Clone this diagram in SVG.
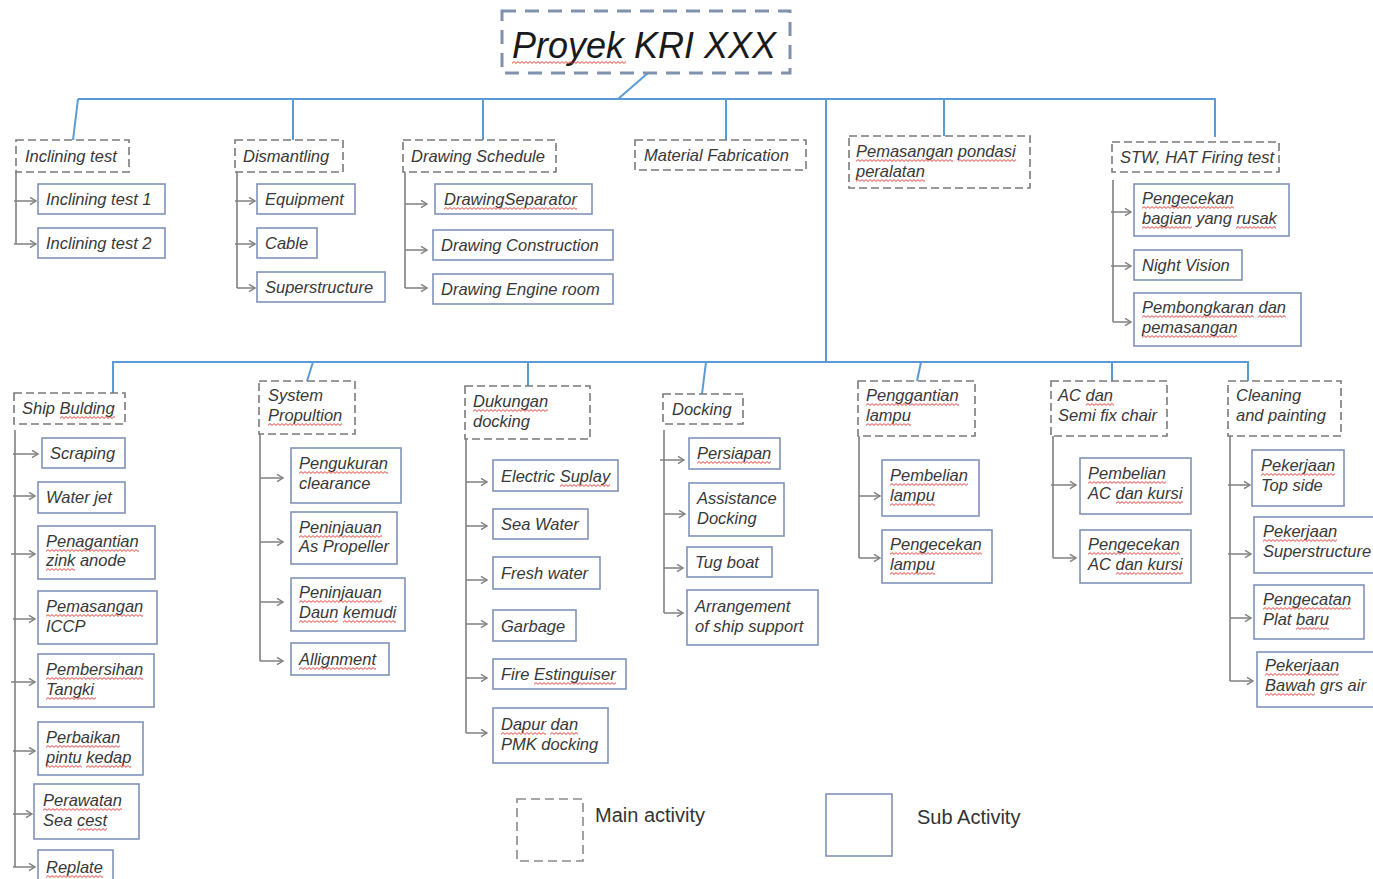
<svg xmlns="http://www.w3.org/2000/svg" width="1373" height="879" viewBox="0 0 1373 879">
  <style>
    .t { font-family: "Liberation Sans", Arial, sans-serif; font-style: italic; font-size: 16.5px; fill: #383838; }
    .title { font-family: "Liberation Sans", Arial, sans-serif; font-style: italic; font-size: 36px; fill: #1a1a1a; }
    .lg { font-family: "Liberation Sans", Arial, sans-serif; font-size: 20px; fill: #333; }
    .main { fill: #fff; stroke: #7a7a7a; stroke-width: 1.6; stroke-dasharray: 8 4; }
    .sub { fill: #fff; stroke: #7f93b8; stroke-width: 1.6; }
    .bus { fill: none; stroke: #5b9bd5; stroke-width: 2; }
    .br { fill: none; stroke: #808080; stroke-width: 1.6; }
    .ar { fill: none; stroke: #808080; stroke-width: 1.5; marker-end: url(#ah); }
    .wv { fill: url(#wave); }
  </style>
  <defs>
    <marker id="ah" markerWidth="9" markerHeight="9" refX="7.5" refY="4.5" orient="auto" markerUnits="userSpaceOnUse">
      <path d="M1.5,0.8 L7.5,4.5 L1.5,8.2" fill="none" stroke="#808080" stroke-width="1.4"/>
    </marker>
    <!-- red wavy spell-check underline -->
    <pattern id="wave" width="4" height="3" patternUnits="userSpaceOnUse">
      <path d="M0,2.4 L2,0.6 L4,2.4" fill="none" stroke="#e0302a" stroke-width="0.9"/>
    </pattern>
  </defs>
  <rect width="1373" height="879" fill="#fff"/>

  <!-- connectors -->
  <g id="connectors">
    <!-- upper bus -->
    <path class="bus" d="M648,73 L618,99"/>
    <path class="bus" d="M78,99 H1215 V137"/>
    <path class="bus" d="M78,99 L73,140"/>
    <path class="bus" d="M293,99 V140"/>
    <path class="bus" d="M483,99 V140"/>
    <path class="bus" d="M726,99 V140"/>
    <path class="bus" d="M944,99 V136"/>
    <path class="bus" d="M826,99 V362"/>
    <!-- lower bus -->
    <path class="bus" d="M113,393 V362 H1248 V381"/>
    <path class="bus" d="M313,362 L307,381"/>
    <path class="bus" d="M528,362 V386"/>
    <path class="bus" d="M706,362 L702,394"/>
    <path class="bus" d="M921,362 L917,381"/>
    <path class="bus" d="M1112,362 V381"/>

    <!-- Inclining test -->
    <path class="br" d="M16,172 V244"/>
    <path class="ar" d="M14,201 H36"/>
    <path class="ar" d="M14,244 H36"/>
    <!-- Dismantling -->
    <path class="br" d="M237,172 V288"/>
    <path class="ar" d="M235,201 H255"/>
    <path class="ar" d="M235,244 H255"/>
    <path class="ar" d="M237,288 H255"/>
    <!-- Drawing Schedule -->
    <path class="br" d="M405,172 V288"/>
    <path class="ar" d="M405,204 H427"/>
    <path class="ar" d="M405,250 H427"/>
    <path class="ar" d="M405,288 H427"/>
    <!-- STW -->
    <path class="br" d="M1113,180 V322"/>
    <path class="ar" d="M1111,212 H1131"/>
    <path class="ar" d="M1111,266 H1131"/>
    <path class="ar" d="M1113,322 H1131"/>
    <!-- Ship Bulding -->
    <path class="br" d="M15,430 V867"/>
    <path class="ar" d="M13,454 H38"/>
    <path class="ar" d="M13,496 H35"/>
    <path class="ar" d="M11,554 H35"/>
    <path class="ar" d="M13,619 H35"/>
    <path class="ar" d="M11,682 H35"/>
    <path class="ar" d="M13,751 H35"/>
    <path class="ar" d="M13,814 H32"/>
    <path class="ar" d="M13,867 H35"/>
    <!-- System Propultion -->
    <path class="br" d="M260,434 V661"/>
    <path class="ar" d="M260,478 H283"/>
    <path class="ar" d="M260,542 H283"/>
    <path class="ar" d="M260,602 H283"/>
    <path class="ar" d="M260,661 H283"/>
    <!-- Dukungan docking -->
    <path class="br" d="M466,439 V733"/>
    <path class="ar" d="M466,482 H487"/>
    <path class="ar" d="M466,526 H487"/>
    <path class="ar" d="M466,580 H487"/>
    <path class="ar" d="M466,624 H487"/>
    <path class="ar" d="M466,678 H487"/>
    <path class="ar" d="M466,733 H487"/>
    <!-- Docking -->
    <path class="br" d="M664,430 V613"/>
    <path class="ar" d="M660,460 H684"/>
    <path class="ar" d="M664,514 H685"/>
    <path class="ar" d="M664,568 H683"/>
    <path class="ar" d="M664,613 H683"/>
    <!-- Penggantian lampu -->
    <path class="br" d="M859,436 V558"/>
    <path class="ar" d="M859,496 H880"/>
    <path class="ar" d="M859,558 H880"/>
    <!-- AC dan Semi fix chair -->
    <path class="br" d="M1053,436 V558"/>
    <path class="ar" d="M1051,485 H1076"/>
    <path class="ar" d="M1053,558 H1076"/>
    <!-- Cleaning and painting -->
    <path class="br" d="M1230,436 V681"/>
    <path class="ar" d="M1228,485 H1250"/>
    <path class="ar" d="M1228,554 H1251"/>
    <path class="ar" d="M1230,618 H1251"/>
    <path class="ar" d="M1230,681 H1253"/>
  </g>

  <!-- project root -->
  <g id="root">
    <rect x="502" y="11" width="288" height="62" fill="#fff" stroke="#8091ad" stroke-width="3" stroke-dasharray="14 9"/>
    <text class="title" x="512" y="58">Proyek KRI XXX</text>
    <rect class="wv" width="114" height="3" transform="translate(512,61)"/>
  </g>

  <!-- upper main activities -->
  <g id="inclining-test">
    <rect class="main" x="16" y="140" width="113" height="32"/>
    <text class="t" x="25" y="162">Inclining test</text>
  </g>
  <g id="inclining-test-1"><rect class="sub" x="38" y="184" width="127" height="30"/><text class="t" x="46" y="205">Inclining test 1</text></g>
  <g id="inclining-test-2"><rect class="sub" x="38" y="228" width="127" height="30"/><text class="t" x="46" y="249">Inclining test 2</text></g>

  <g id="dismantling">
    <rect class="main" x="235" y="140" width="108" height="32"/>
    <text class="t" x="243" y="162">Dismantling</text>
  </g>
  <g id="equipment"><rect class="sub" x="257" y="184" width="98" height="30"/><text class="t" x="265" y="205">Equipment</text></g>
  <g id="cable"><rect class="sub" x="257" y="228" width="60" height="30"/><text class="t" x="265" y="249">Cable</text></g>
  <g id="superstructure"><rect class="sub" x="257" y="272" width="128" height="30"/><text class="t" x="265" y="293">Superstructure</text></g>

  <g id="drawing-schedule">
    <rect class="main" x="403" y="140" width="153" height="32"/>
    <text class="t" x="411" y="162">Drawing Schedule</text>
  </g>
  <g id="drawing-separator"><rect class="sub" x="435" y="184" width="157" height="30"/><text class="t" x="444" y="205">DrawingSeparator</text>
    <rect class="wv" width="133" height="3" transform="translate(444,207)"/></g>
  <g id="drawing-construction"><rect class="sub" x="433" y="230" width="180" height="30"/><text class="t" x="441" y="251">Drawing Construction</text></g>
  <g id="drawing-engine-room"><rect class="sub" x="433" y="274" width="180" height="30"/><text class="t" x="441" y="295">Drawing Engine room</text></g>

  <g id="material-fabrication">
    <rect class="main" x="635" y="140" width="171" height="30"/>
    <text class="t" x="644" y="161">Material Fabrication</text>
  </g>

  <g id="pemasangan-pondasi">
    <rect class="main" x="849" y="136" width="181" height="52"/>
    <text class="t" x="856" y="157">Pemasangan pondasi</text>
    <text class="t" x="856" y="177">peralatan</text>
    <rect class="wv" width="97" height="3" transform="translate(856,159)"/>
    <rect class="wv" width="58" height="3" transform="translate(958,159)"/>
    <rect class="wv" width="69" height="3" transform="translate(856,179)"/>
  </g>

  <g id="stw-hat">
    <rect class="main" x="1112" y="142" width="167" height="30"/>
    <text class="t" x="1120" y="163">STW, HAT Firing test</text>
  </g>
  <g id="pengecekan-bagian"><rect class="sub" x="1134" y="184" width="155" height="52"/>
    <text class="t" x="1142" y="204">Pengecekan</text>
    <text class="t" x="1142" y="224">bagian yang rusak</text>
    <rect class="wv" width="92" height="3" transform="translate(1142,206)"/>
    <rect class="wv" width="50" height="3" transform="translate(1142,226)"/>
    <rect class="wv" width="40" height="3" transform="translate(1236,226)"/></g>
  <g id="night-vision"><rect class="sub" x="1134" y="250" width="108" height="30"/><text class="t" x="1142" y="271">Night Vision</text></g>
  <g id="pembongkaran"><rect class="sub" x="1134" y="293" width="167" height="53"/>
    <text class="t" x="1142" y="313">Pembongkaran dan</text>
    <text class="t" x="1142" y="333">pemasangan</text>
    <rect class="wv" width="112" height="3" transform="translate(1142,315)"/>
    <rect class="wv" width="28" height="3" transform="translate(1258,315)"/>
    <rect class="wv" width="95" height="3" transform="translate(1142,335)"/></g>

  <!-- lower main activities -->
  <g id="ship-bulding">
    <rect class="main" x="14" y="393" width="111" height="31"/>
    <text class="t" x="22" y="414">Ship Bulding</text>
    <rect class="wv" width="55" height="3" transform="translate(60,416)"/>
  </g>
  <g id="scraping"><rect class="sub" x="42" y="438" width="83" height="30"/><text class="t" x="50" y="459">Scraping</text></g>
  <g id="water-jet"><rect class="sub" x="38" y="482" width="87" height="31"/><text class="t" x="46" y="503">Water jet</text></g>
  <g id="zink-anode"><rect class="sub" x="38" y="526" width="117" height="53"/>
    <text class="t" x="46" y="547">Penagantian</text>
    <text class="t" x="46" y="566">zink anode</text>
    <rect class="wv" width="93" height="3" transform="translate(46,549)"/>
    <rect class="wv" width="29" height="3" transform="translate(46,568)"/></g>
  <g id="iccp"><rect class="sub" x="38" y="591" width="119" height="53"/>
    <text class="t" x="46" y="612">Pemasangan</text>
    <text class="t" x="46" y="632">ICCP</text>
    <rect class="wv" width="97" height="3" transform="translate(46,614)"/></g>
  <g id="tangki"><rect class="sub" x="38" y="654" width="116" height="53"/>
    <text class="t" x="46" y="675">Pembersihan</text>
    <text class="t" x="46" y="695">Tangki</text>
    <rect class="wv" width="97" height="3" transform="translate(46,677)"/>
    <rect class="wv" width="50" height="3" transform="translate(46,697)"/></g>
  <g id="pintu-kedap"><rect class="sub" x="38" y="722" width="105" height="53"/>
    <text class="t" x="46" y="743">Perbaikan</text>
    <text class="t" x="46" y="763">pintu kedap</text>
    <rect class="wv" width="74" height="3" transform="translate(46,745)"/>
    <rect class="wv" width="36" height="3" transform="translate(46,765)"/>
    <rect class="wv" width="45" height="3" transform="translate(86,765)"/></g>
  <g id="sea-cest"><rect class="sub" x="34" y="784" width="105" height="55"/>
    <text class="t" x="43" y="806">Perawatan</text>
    <text class="t" x="43" y="826">Sea cest</text>
    <rect class="wv" width="79" height="3" transform="translate(43,808)"/>
    <rect class="wv" width="30" height="3" transform="translate(77,828)"/></g>
  <g id="replate"><rect class="sub" x="38" y="850" width="75" height="40"/>
    <text class="t" x="46" y="873">Replate</text>
    <rect class="wv" width="57" height="3" transform="translate(46,875)"/></g>

  <g id="system-propultion">
    <rect class="main" x="259" y="381" width="96" height="53"/>
    <text class="t" x="268" y="401">System</text>
    <text class="t" x="268" y="421">Propultion</text>
    <rect class="wv" width="74" height="3" transform="translate(268,423)"/>
  </g>
  <g id="clearance"><rect class="sub" x="291" y="448" width="110" height="55"/>
    <text class="t" x="299" y="469">Pengukuran</text>
    <text class="t" x="299" y="489">clearance</text>
    <rect class="wv" width="89" height="3" transform="translate(299,471)"/></g>
  <g id="as-propeller"><rect class="sub" x="291" y="512" width="106" height="52"/>
    <text class="t" x="299" y="533">Peninjauan</text>
    <text class="t" x="299" y="552">As Propeller</text>
    <rect class="wv" width="83" height="3" transform="translate(299,535)"/></g>
  <g id="daun-kemudi"><rect class="sub" x="291" y="578" width="114" height="53"/>
    <text class="t" x="299" y="598">Peninjauan</text>
    <text class="t" x="299" y="618">Daun kemudi</text>
    <rect class="wv" width="83" height="3" transform="translate(299,600)"/>
    <rect class="wv" width="39" height="3" transform="translate(299,620)"/>
    <rect class="wv" width="53" height="3" transform="translate(343,620)"/></g>
  <g id="allignment"><rect class="sub" x="291" y="643" width="98" height="32"/>
    <text class="t" x="299" y="665">Allignment</text>
    <rect class="wv" width="77" height="3" transform="translate(299,667)"/></g>

  <g id="dukungan-docking">
    <rect class="main" x="465" y="386" width="125" height="53"/>
    <text class="t" x="473" y="407">Dukungan</text>
    <text class="t" x="473" y="427">docking</text>
    <rect class="wv" width="75" height="3" transform="translate(473,409)"/>
  </g>
  <g id="electric-suplay"><rect class="sub" x="493" y="460" width="125" height="31"/><text class="t" x="501" y="482">Electric Suplay</text>
    <rect class="wv" width="50" height="3" transform="translate(560,484)"/></g>
  <g id="sea-water"><rect class="sub" x="493" y="509" width="95" height="30"/><text class="t" x="501" y="530">Sea Water</text></g>
  <g id="fresh-water"><rect class="sub" x="493" y="557" width="107" height="32"/><text class="t" x="501" y="579">Fresh water</text></g>
  <g id="garbage"><rect class="sub" x="493" y="610" width="83" height="31"/><text class="t" x="501" y="632">Garbage</text></g>
  <g id="fire-estinguiser"><rect class="sub" x="493" y="659" width="133" height="30"/><text class="t" x="501" y="680">Fire Estinguiser</text>
    <rect class="wv" width="82" height="3" transform="translate(534,682)"/></g>
  <g id="dapur-pmk"><rect class="sub" x="493" y="708" width="115" height="55"/>
    <text class="t" x="501" y="730">Dapur dan</text>
    <text class="t" x="501" y="750">PMK docking</text>
    <rect class="wv" width="45" height="3" transform="translate(501,732)"/>
    <rect class="wv" width="28" height="3" transform="translate(550,732)"/></g>

  <g id="docking">
    <rect class="main" x="663" y="394" width="80" height="30"/>
    <text class="t" x="672" y="415">Docking</text>
  </g>
  <g id="persiapan"><rect class="sub" x="689" y="438" width="91" height="31"/><text class="t" x="697" y="459">Persiapan</text>
    <rect class="wv" width="74" height="3" transform="translate(697,461)"/></g>
  <g id="assistance-docking"><rect class="sub" x="689" y="483" width="95" height="53"/>
    <text class="t" x="697" y="504">Assistance</text>
    <text class="t" x="697" y="524">Docking</text></g>
  <g id="tug-boat"><rect class="sub" x="687" y="547" width="85" height="30"/><text class="t" x="695" y="568">Tug boat</text></g>
  <g id="ship-support"><rect class="sub" x="687" y="590" width="131" height="55"/>
    <text class="t" x="695" y="612">Arrangement</text>
    <text class="t" x="695" y="632">of ship support</text></g>

  <g id="penggantian-lampu">
    <rect class="main" x="858" y="381" width="117" height="55"/>
    <text class="t" x="866" y="401">Penggantian</text>
    <text class="t" x="866" y="421">lampu</text>
    <rect class="wv" width="93" height="3" transform="translate(866,403)"/>
    <rect class="wv" width="45" height="3" transform="translate(866,423)"/>
  </g>
  <g id="pembelian-lampu"><rect class="sub" x="882" y="460" width="97" height="56"/>
    <text class="t" x="890" y="481">Pembelian</text>
    <text class="t" x="890" y="501">lampu</text>
    <rect class="wv" width="78" height="3" transform="translate(890,483)"/>
    <rect class="wv" width="45" height="3" transform="translate(890,503)"/></g>
  <g id="pengecekan-lampu"><rect class="sub" x="882" y="530" width="110" height="53"/>
    <text class="t" x="890" y="550">Pengecekan</text>
    <text class="t" x="890" y="570">lampu</text>
    <rect class="wv" width="92" height="3" transform="translate(890,552)"/>
    <rect class="wv" width="45" height="3" transform="translate(890,572)"/></g>

  <g id="ac-semi-fix">
    <rect class="main" x="1051" y="381" width="116" height="55"/>
    <text class="t" x="1058" y="401">AC dan</text>
    <text class="t" x="1058" y="421">Semi fix chair</text>
    <rect class="wv" width="28" height="3" transform="translate(1086,403)"/>
  </g>
  <g id="pembelian-ac"><rect class="sub" x="1080" y="458" width="111" height="56"/>
    <text class="t" x="1088" y="479">Pembelian</text>
    <text class="t" x="1088" y="499">AC dan kursi</text>
    <rect class="wv" width="78" height="3" transform="translate(1088,481)"/>
    <rect class="wv" width="67" height="3" transform="translate(1116,501)"/></g>
  <g id="pengecekan-ac"><rect class="sub" x="1080" y="530" width="111" height="53"/>
    <text class="t" x="1088" y="550">Pengecekan</text>
    <text class="t" x="1088" y="570">AC dan kursi</text>
    <rect class="wv" width="92" height="3" transform="translate(1088,552)"/>
    <rect class="wv" width="67" height="3" transform="translate(1116,572)"/></g>

  <g id="cleaning-painting">
    <rect class="main" x="1228" y="381" width="113" height="55"/>
    <text class="t" x="1236" y="401">Cleaning</text>
    <text class="t" x="1236" y="421">and painting</text>
  </g>
  <g id="top-side"><rect class="sub" x="1252" y="450" width="92" height="56"/>
    <text class="t" x="1261" y="471">Pekerjaan</text>
    <text class="t" x="1261" y="491">Top side</text>
    <rect class="wv" width="74" height="3" transform="translate(1261,473)"/></g>
  <g id="pekerjaan-superstructure"><rect class="sub" x="1254" y="517" width="125" height="56"/>
    <text class="t" x="1263" y="537">Pekerjaan</text>
    <text class="t" x="1263" y="557">Superstructure</text>
    <rect class="wv" width="74" height="3" transform="translate(1263,539)"/></g>
  <g id="plat-baru"><rect class="sub" x="1254" y="585" width="110" height="54"/>
    <text class="t" x="1263" y="605">Pengecatan</text>
    <text class="t" x="1263" y="625">Plat baru</text>
    <rect class="wv" width="88" height="3" transform="translate(1263,607)"/>
    <rect class="wv" width="33" height="3" transform="translate(1296,627)"/></g>
  <g id="bawah-grs-air"><rect class="sub" x="1257" y="652" width="120" height="55"/>
    <text class="t" x="1265" y="671">Pekerjaan</text>
    <text class="t" x="1265" y="691">Bawah grs air</text>
    <rect class="wv" width="74" height="3" transform="translate(1265,673)"/>
    <rect class="wv" width="50" height="3" transform="translate(1265,693)"/></g>

  <!-- legend -->
  <g id="legend-main">
    <rect x="517" y="799" width="66" height="62" fill="#fff" stroke="#8a8a8a" stroke-width="1.6" stroke-dasharray="9 5"/>
    <text class="lg" x="595" y="822">Main activity</text>
  </g>
  <g id="legend-sub">
    <rect class="sub" x="826" y="794" width="66" height="62"/>
    <text class="lg" x="917" y="824">Sub Activity</text>
  </g>
</svg>
